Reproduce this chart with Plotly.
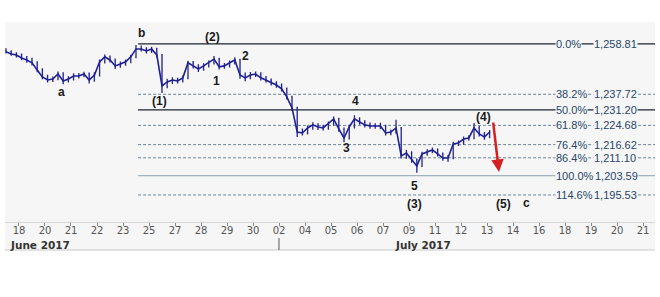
import plotly.graph_objects as go

# ---------------- data ----------------
tick_labels = ["18", "20", "21", "22", "23", "25", "27", "28", "29", "30", "02", "04",
               "05", "06", "07", "09", "11", "12", "13", "14", "16", "18", "19", "20", "21"]
bar_step = 0.2      # session slots per tick label
first_open = 1256.0
closes = [1255.5, 1254.6, 1254.2, 1252.9, 1252.1, 1250.9, 1247.9, 1245.0, 1243.7, 1244.1,
          1246.2, 1243.3, 1244.1, 1245.4, 1245.4, 1246.2, 1243.7, 1245.8, 1251.3, 1253.4,
          1252.1, 1249.6, 1250.4, 1251.3, 1253.4, 1256.7, 1256.7, 1255.9, 1256.7, 1254.2,
          1241.2, 1242.9, 1243.7, 1243.3, 1244.6, 1250.9, 1249.6, 1248.3, 1249.6, 1250.9,
          1252.5, 1249.2, 1249.6, 1250.9, 1252.1, 1245.8, 1244.6, 1245.8, 1246.2, 1244.6,
          1243.7, 1242.5, 1241.6, 1240.0, 1236.6, 1232.0, 1221.9, 1221.5, 1223.6, 1224.9,
          1224.0, 1223.6, 1225.3, 1227.4, 1223.2, 1219.4, 1224.0, 1227.4, 1226.1, 1224.9,
          1224.4, 1224.4, 1224.4, 1221.5, 1221.9, 1223.6, 1211.9, 1213.1, 1210.2, 1207.7,
          1212.7, 1213.6, 1214.4, 1212.7, 1211.0, 1211.0, 1216.9, 1217.3, 1219.0, 1219.4,
          1223.6, 1221.1, 1219.8, 1221.9]
highs = [1257.0, 1256.2, 1255.3, 1254.8, 1253.8, 1253.0, 1251.6, 1248.6, 1245.9, 1245.2,
         1247.3, 1246.9, 1245.3, 1246.5, 1246.6, 1247.2, 1246.8, 1246.9, 1252.3, 1254.4,
         1254.0, 1252.7, 1251.5, 1252.3, 1254.3, 1258.4, 1258.2, 1257.4, 1257.6, 1257.2,
         1254.6, 1244.2, 1244.8, 1244.6, 1245.6, 1251.8, 1251.7, 1250.3, 1250.7, 1251.9,
         1253.8, 1253.0, 1250.8, 1251.9, 1253.2, 1252.6, 1246.8, 1247.0, 1247.3, 1246.9,
         1245.4, 1244.3, 1243.2, 1242.2, 1240.6, 1237.1, 1232.5, 1223.4, 1224.6, 1226.0,
         1225.6, 1225.0, 1226.3, 1228.4, 1227.9, 1223.8, 1225.0, 1228.9, 1228.1, 1226.8,
         1225.9, 1225.6, 1225.8, 1224.9, 1223.0, 1227.0, 1224.0, 1214.4, 1213.8, 1210.8,
         1213.6, 1214.7, 1215.4, 1215.0, 1213.3, 1212.3, 1217.8, 1218.4, 1220.0, 1220.6,
         1225.7, 1224.4, 1221.9, 1222.8]
lows = [1254.8, 1253.9, 1253.1, 1252.0, 1250.9, 1249.8, 1246.9, 1244.0, 1242.6, 1242.9,
        1243.6, 1241.9, 1242.7, 1243.5, 1244.3, 1244.8, 1242.2, 1243.0, 1245.2, 1250.6,
        1251.0, 1248.3, 1248.8, 1249.7, 1250.7, 1252.8, 1255.6, 1254.8, 1255.0, 1253.0,
        1238.3, 1240.2, 1242.0, 1242.2, 1242.6, 1244.0, 1248.5, 1247.1, 1247.6, 1248.9,
        1250.2, 1248.1, 1248.4, 1248.9, 1250.2, 1244.2, 1243.2, 1244.0, 1245.0, 1243.5,
        1242.6, 1241.4, 1240.5, 1238.9, 1235.5, 1230.8, 1219.8, 1220.4, 1220.9, 1222.9,
        1222.8, 1222.5, 1222.9, 1224.6, 1222.0, 1217.6, 1218.8, 1223.4, 1225.0, 1223.8,
        1223.3, 1223.3, 1223.2, 1220.4, 1220.6, 1221.2, 1210.8, 1210.7, 1209.0, 1204.8,
        1207.2, 1212.0, 1213.0, 1211.6, 1209.9, 1209.4, 1210.5, 1216.0, 1216.6, 1218.2,
        1218.9, 1220.0, 1218.7, 1219.3]

fib_pct = ["0.0%", "38.2%", "50.0%", "61.8%", "76.4%", "86.4%", "100.0%", "114.6%"]
fib_val = [1258.81, 1237.72, 1231.20, 1224.68, 1216.62, 1211.10, 1203.59, 1195.53]

wave_labels = ["a", "b", "(1)", "(2)", "1", "2", "3", "4", "5", "(3)", "(4)", "(5)", "c"]
wave_x = [1.65, 4.7, 5.4, 7.45, 7.6, 8.7, 12.6, 12.95, 15.2, 15.2, 17.85, 18.62, 19.5]
wave_y = [1238.6, 1263.3, 1235.1, 1261.7, 1243.3, 1253.8, 1215.2, 1235.1, 1199.1, 1191.6,
          1228.4, 1191.6, 1192.0]

# ---------------- figure ----------------
n = len(closes)
xs = [-0.5 + bar_step * i for i in range(n)]
opens = [first_open] + closes[:-1]

BG = "#f6f6f6"
NAVY = "#1f1f96"
fig = go.Figure()
fig.add_trace(go.Scatter(x=xs, y=closes, mode="lines", line=dict(color=NAVY, width=1.6),
                         showlegend=False, hoverinfo="skip"))
fig.add_trace(go.Ohlc(
    x=xs, open=opens, high=highs, low=lows, close=closes,
    increasing=dict(line=dict(color="#2a2a80", width=1.3)),
    decreasing=dict(line=dict(color=NAVY, width=1.3)),
    tickwidth=0.15, showlegend=False, hoverinfo="skip"))

x_start = 4.58
x_end = 24.46
LABEL_FONT = dict(family="Liberation Sans, Arial", size=11, color="#27466a")
for pct, val in zip(fib_pct, fib_val):
    if pct in ("0.0%", "50.0%"):
        line = dict(color="#1c2430", width=1.2)
    elif pct == "100.0%":
        line = dict(color="#8fa2b2", width=1)
    else:
        line = dict(color="#6d8396", width=1, dash="3px,2px")
    fig.add_shape(type="line", xref="x", yref="y", x0=x_start, x1=x_end, y0=val, y1=val,
                  line=line, layer="below")
    fig.add_annotation(x=20.62, y=val, xref="x", yref="y", text=pct, showarrow=False,
                       xanchor="left", yanchor="middle", bgcolor=BG, borderpad=0,
                       font=LABEL_FONT)
    fig.add_annotation(x=22.08 if pct != "100.0%" else 22.12, y=val, xref="x", yref="y",
                       text=f"{val:,.2f}", showarrow=False,
                       xanchor="left", yanchor="middle", bgcolor=BG, borderpad=0,
                       font=LABEL_FONT)

for t, x, y in zip(wave_labels, wave_x, wave_y):
    fig.add_annotation(x=x, y=y, xref="x", yref="y", text=f"<b>{t}</b>", showarrow=False,
                       font=dict(family="Liberation Sans, Arial", size=12, color="#1a1a1a"))

# red arrow
fig.add_annotation(x=18.46, y=1205.2, ax=18.23, ay=1226.5, xref="x", yref="y",
                   axref="x", ayref="y", text="", showarrow=True, arrowhead=2,
                   arrowsize=1, arrowwidth=2.5, arrowcolor="#d42020")

# axis band
fig.add_shape(type="rect", xref="paper", yref="paper", x0=0, x1=1, y0=-0.14, y1=0,
              fillcolor=BG, line=dict(width=0), layer="below")
fig.add_shape(type="line", xref="paper", yref="paper", x0=0, x1=1, y0=-0.14, y1=-0.14,
              line=dict(color="#c8c8c8", width=1))
fig.add_shape(type="line", xref="paper", yref="paper", x0=0.4215, x1=0.4215, y0=-0.08, y1=-0.14,
              line=dict(color="#555555", width=1))
fig.add_annotation(x=0.004, y=-0.113, xref="paper", yref="paper", text="<b>June 2017</b>",
                   showarrow=False, xanchor="left", yanchor="middle",
                   font=dict(family="DejaVu Sans", size=10.5, color="#333333"))
fig.add_annotation(x=0.643, y=-0.113, xref="paper", yref="paper", text="<b>July 2017</b>",
                   showarrow=False, xanchor="center", yanchor="middle",
                   font=dict(family="DejaVu Sans", size=10.5, color="#333333"))

fig.update_layout(
    width=660, height=297,
    margin=dict(l=5, r=5, t=22, b=75),
    paper_bgcolor="white", plot_bgcolor=BG,
    xaxis=dict(range=[-0.538, 24.46], tickvals=list(range(len(tick_labels))),
               ticktext=tick_labels, ticks="outside", ticklen=3, tickcolor="#888888",
               ticklabelstandoff=-4,
               showgrid=False, zeroline=False, showline=True, linecolor="#d6d6d6",
               tickfont=dict(family="DejaVu Sans", size=10, color="#555555"),
               rangeslider=dict(visible=False), fixedrange=True),
    yaxis=dict(range=[1184.2, 1268.0], visible=False, showgrid=False, fixedrange=True),
)

fig.write_html("out.html")
